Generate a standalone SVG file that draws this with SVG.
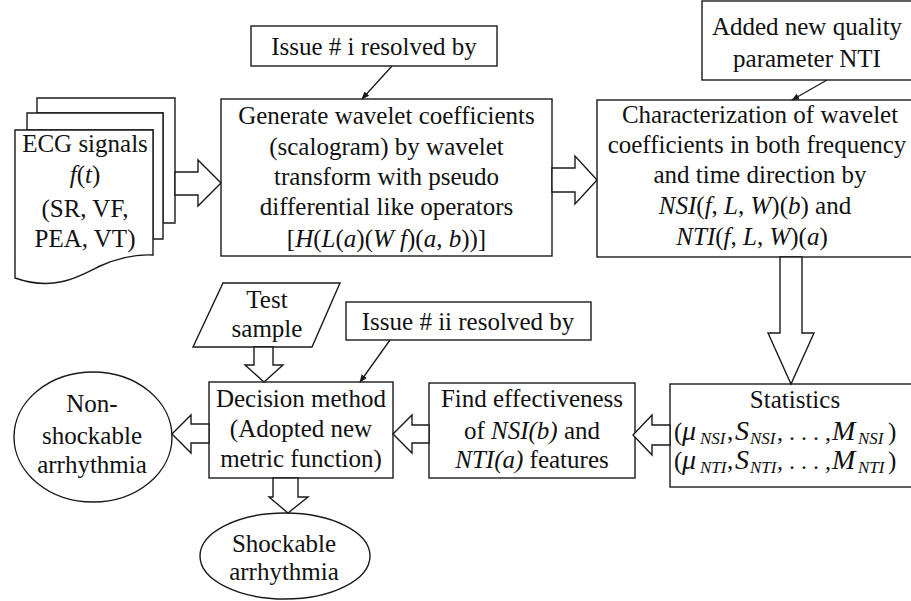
<svg xmlns="http://www.w3.org/2000/svg" width="911" height="601" viewBox="0 0 911 601">
<style>
.box{fill:#fff;stroke:#1a1a1a;stroke-width:1.4}
.blk{fill:#fff;stroke:#1a1a1a;stroke-width:1.4;stroke-linejoin:miter}
.ln{fill:none;stroke:#1a1a1a;stroke-width:1.3}
text{font-family:"Liberation Serif","Times New Roman",serif;font-size:25px;fill:#111;text-anchor:middle}
.it{font-style:italic}
.mi{font-style:italic;font-size:28px}
.sub{font-size:17px;font-style:italic}
.dots{font-size:24px}
.st{text-anchor:start}
</style>
<defs>
<marker id="ah" viewBox="0 0 10 10" refX="9" refY="5" markerWidth="8" markerHeight="8" orient="auto" markerUnits="userSpaceOnUse">
<path d="M0,1 L10,5 L0,9 Z" fill="#1a1a1a"/>
</marker>
</defs>
<rect width="911" height="601" fill="#fff"/>

<g id="ecg">
<path class="box" d="M37,98 H175 V223 H163 V113 H37 Z"/>
<path class="box" d="M27,113 H163 V239 H153 V130 H27 Z"/>
<path class="box" d="M15,130 H153 V255 C135,254 118,258 100,266 C80,276 55,292 15,278 Z"/>
<text x="85" y="152">ECG signals</text>
<text x="85" y="183"><tspan class="it">f</tspan>(<tspan class="it">t</tspan>)</text>
<text x="85" y="217">(SR, VF,</text>
<text x="85" y="247">PEA, VT)</text>
</g>

<g id="issue1">
<rect class="box" x="251" y="26" width="246" height="40"/>
<text x="374" y="55">Issue # i resolved by</text>
</g>

<g id="generate">
<rect class="box" x="221" y="99" width="331" height="157"/>
<text x="386.5" y="124">Generate wavelet coefficients</text>
<text x="386.5" y="155">(scalogram) by wavelet</text>
<text x="386.5" y="185">transform with pseudo</text>
<text x="386.5" y="215">differential like operators</text>
<text x="386.5" y="247">[<tspan class="it">H</tspan>(<tspan class="it">L</tspan>(<tspan class="it">a</tspan>)(<tspan class="it">W f</tspan>)(<tspan class="it">a</tspan>, <tspan class="it">b</tspan>))]</text>
</g>

<g id="added">
<rect class="box" x="702" y="1" width="230" height="79"/>
<text x="807" y="35">Added new quality</text>
<text x="807" y="67">parameter NTI</text>
</g>

<g id="characterization">
<rect class="box" x="597" y="100" width="330" height="157"/>
<text x="760" y="123">Characterization of wavelet</text>
<text x="757" y="153">coefficients in both frequency</text>
<text x="760" y="183">and time direction by</text>
<text x="755" y="214"><tspan class="it">NSI</tspan>(<tspan class="it">f</tspan>, <tspan class="it">L</tspan>, <tspan class="it">W</tspan>)(<tspan class="it">b</tspan>) and</text>
<text x="752" y="245"><tspan class="it">NTI</tspan>(<tspan class="it">f</tspan>, <tspan class="it">L</tspan>, <tspan class="it">W</tspan>)(<tspan class="it">a</tspan>)</text>
</g>

<g id="statistics">
<rect class="box" x="670" y="384" width="260" height="103"/>
<text x="795" y="408">Statistics</text>
<text class="st" x="674" y="440">(<tspan class="mi" x="682">μ</tspan><tspan class="sub" x="700" dy="4">NSI</tspan><tspan x="727" dy="-4">,</tspan><tspan class="mi" x="735">S</tspan><tspan class="sub" x="750" dy="4">NSI</tspan><tspan class="dots" x="777" dy="-4">, . . . ,</tspan><tspan class="mi" x="832">M</tspan><tspan class="sub" x="858" dy="4">NSI</tspan><tspan x="888" dy="-4">)</tspan></text>
<text class="st" x="674" y="469">(<tspan class="mi" x="682">μ</tspan><tspan class="sub" x="700" dy="4">NTI</tspan><tspan x="727" dy="-4">,</tspan><tspan class="mi" x="735">S</tspan><tspan class="sub" x="750" dy="4">NTI</tspan><tspan class="dots" x="777" dy="-4">, . . . ,</tspan><tspan class="mi" x="832">M</tspan><tspan class="sub" x="858" dy="4">NTI</tspan><tspan x="888" dy="-4">)</tspan></text>
</g>

<g id="find">
<rect class="box" x="429" y="383" width="206" height="95"/>
<text x="532" y="407">Find effectiveness</text>
<text x="532" y="439">of <tspan class="it">NSI(b)</tspan> and</text>
<text x="532" y="468"><tspan class="it">NTI(a)</tspan> features</text>
</g>

<g id="testsample">
<path class="box" d="M223,283 H340 L312,347 H193 Z"/>
<text x="267" y="308">Test</text>
<text x="267" y="337">sample</text>
</g>

<g id="issue2">
<rect class="box" x="346" y="302" width="245" height="38"/>
<text x="468" y="330">Issue # ii resolved by</text>
</g>

<g id="decision">
<rect class="box" x="209" y="382" width="184" height="96"/>
<text x="301" y="407">Decision method</text>
<text x="301" y="437">(Adopted new</text>
<text x="301" y="467">metric function)</text>
</g>

<g id="nonshockable">
<ellipse class="box" cx="93" cy="437" rx="79" ry="65"/>
<text x="92" y="412">Non-</text>
<text x="92" y="444">shockable</text>
<text x="92" y="473">arrhythmia</text>
</g>

<g id="shockable">
<ellipse class="box" cx="285" cy="556" rx="85" ry="43"/>
<text x="284" y="552">Shockable</text>
<text x="284" y="580">arrhythmia</text>
</g>

<g id="connectors">
<polygon class="blk" points="175,172 198,172 198,160 221,183 198,206 198,195 175,195"/>
<polygon class="blk" points="552,168 575,168 575,156 597,180 575,204 575,192 552,192"/>
<polygon class="blk" points="780,257 802,257 802,333 814,333 791,384 768,333 780,333"/>
<polygon class="blk" points="670,425 652,425 652,415 633,435 652,455 652,445 670,445"/>
<polygon class="blk" points="429,425 412,425 412,415 393,434 412,453 412,443 429,443"/>
<polygon class="blk" points="209,424 191,424 191,415 172,434 191,453 191,443 209,443"/>
<polygon class="blk" points="273,478 298,478 298,497 308,497 288,513 269,497 273,497"/>
<polygon class="blk" points="254,347 273,347 273,365 283,365 264,382 245,365 254,365"/>
<line class="ln" x1="392" y1="66" x2="362" y2="99" marker-end="url(#ah)"/>
<line class="ln" x1="827" y1="80" x2="792" y2="100" marker-end="url(#ah)"/>
<line class="ln" x1="390" y1="340" x2="360" y2="382" marker-end="url(#ah)"/>
</g>
</svg>
